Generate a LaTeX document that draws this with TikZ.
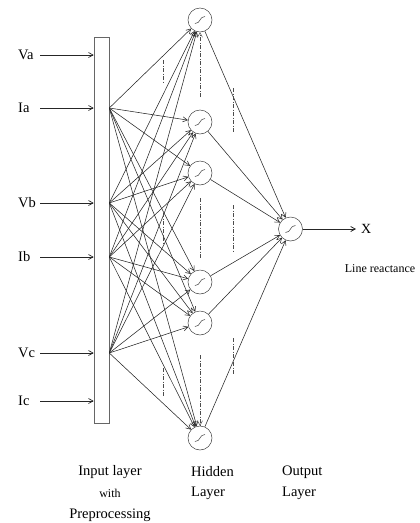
\documentclass[tikz,border=0pt]{standalone}
\usepackage{fontspec}
\setmainfont{Liberation Serif}
\usepackage{tikz}
\usetikzlibrary{arrows.meta}

\tikzset{
    lbl/.style={font=\fontsize{14.5}{17}\selectfont, inner sep=0pt},
    small/.style={font=\fontsize{12}{14}\selectfont, inner sep=0pt},
    neuron/.style={circle, draw=black!75, line width=0.5pt, minimum size=24pt, inner sep=0pt,
        path picture={\draw[line width=0.5pt, shift={(path picture bounding box.center)}]
            (-5pt,-3.5pt) .. controls (1pt,-3.5pt) and (-1pt,3.5pt) .. (5pt,3.5pt);}},
    wire/.style={line width=0.55pt, draw=black!85, -{Straight Barb[length=4.5pt,width=5pt]}},
    gap/.style={line width=0.5pt, draw=black!70, dash pattern=on 4pt off 1.5pt on 1pt off 1.5pt}
}

\begin{document}
\begin{tikzpicture}[x=1pt, y=-1pt]
    \useasboundingbox (0,0) rectangle (420,523);

    \node[draw=black!60, line width=0.6pt, minimum width=15pt, minimum height=386pt, inner sep=0pt]
        (prep) at (101.5, 230) {};

    \node[lbl, anchor=west] (va) at (18, 55) {Va};
    \node[lbl, anchor=west] (ia) at (18, 108) {Ia};
    \node[lbl, anchor=west] (vb) at (18, 203) {Vb};
    \node[lbl, anchor=west] (ib) at (18, 257) {Ib};
    \node[lbl, anchor=west] (vc) at (18, 353) {Vc};
    \node[lbl, anchor=west] (ic) at (18, 401) {Ic};

    \foreach \s in {va,ia,vb,ib,vc,ic}
        \draw[wire, line width=0.7pt] (40, 0 |- \s) -- (\s -| prep.west);

    \foreach \s in {ia,vb,ib,vc}
        \coordinate (\s-out) at (\s -| prep.east);

    \node[neuron] (h1) at (200, 20) {};
    \node[neuron] (h2) at (200, 122) {};
    \node[neuron] (h3) at (200, 173) {};
    \node[neuron] (h4) at (200, 282) {};
    \node[neuron] (h5) at (200, 323) {};
    \node[neuron] (h6) at (200, 438) {};

    \node[neuron] (out) at (290.5, 229) {};

    \foreach \s in {ia,vb,ib,vc}
        \foreach \h in {1,...,6}
            \draw[wire] (\s-out) -- (h\h);

    \foreach \h in {1,...,6}
        \draw[wire] (h\h) -- (out);

    \node[lbl, font=\fontsize{14}{17}\selectfont, anchor=west] (x) at (361, 229) {X};
    \coordinate (xin) at (356, 229);
    \draw[wire, line width=0.8pt] (out) -- (xin);
    \node[small] (react) at (380, 269) {Line reactance};

    % gaps between the neurons
    \draw[gap] (163, 60) -- (163, 84);
    \draw[gap] (163, 213) -- (163, 243);
    \draw[gap] (163, 368) -- (163, 396);
    \coordinate (g1) at (200, 97);
    \coordinate (g6) at (200, 355);
    \draw[gap, -{Straight Barb[length=4.5pt,width=5pt]}] (g1) -- (h1);
    \draw[gap] (h3.south |- 0, 198) -- (h3.south |- 0, 258);
    \draw[gap, -{Straight Barb[length=4.5pt,width=5pt]}] (g6) -- (h6);
    \draw[gap] (233, 88) -- (233, 133);
    \draw[gap] (233, 205) -- (233, 252);
    \draw[gap] (233, 338) -- (233, 375);

    \node[lbl] (inl) at (110, 472) {Input layer};
    \node[small] (with) at (110, 493) {with};
    \node[lbl] (pre) at (110, 515) {Preprocessing};
    \node[lbl, anchor=west] (hid) at (191, 472) {Hidden};
    \node[lbl, anchor=west] (hidl) at (191, 493) {Layer};
    \node[lbl, anchor=west] (outp) at (282, 472) {Output};
    \node[lbl, anchor=west] (outl) at (282, 493) {Layer};
\end{tikzpicture}
\end{document}
